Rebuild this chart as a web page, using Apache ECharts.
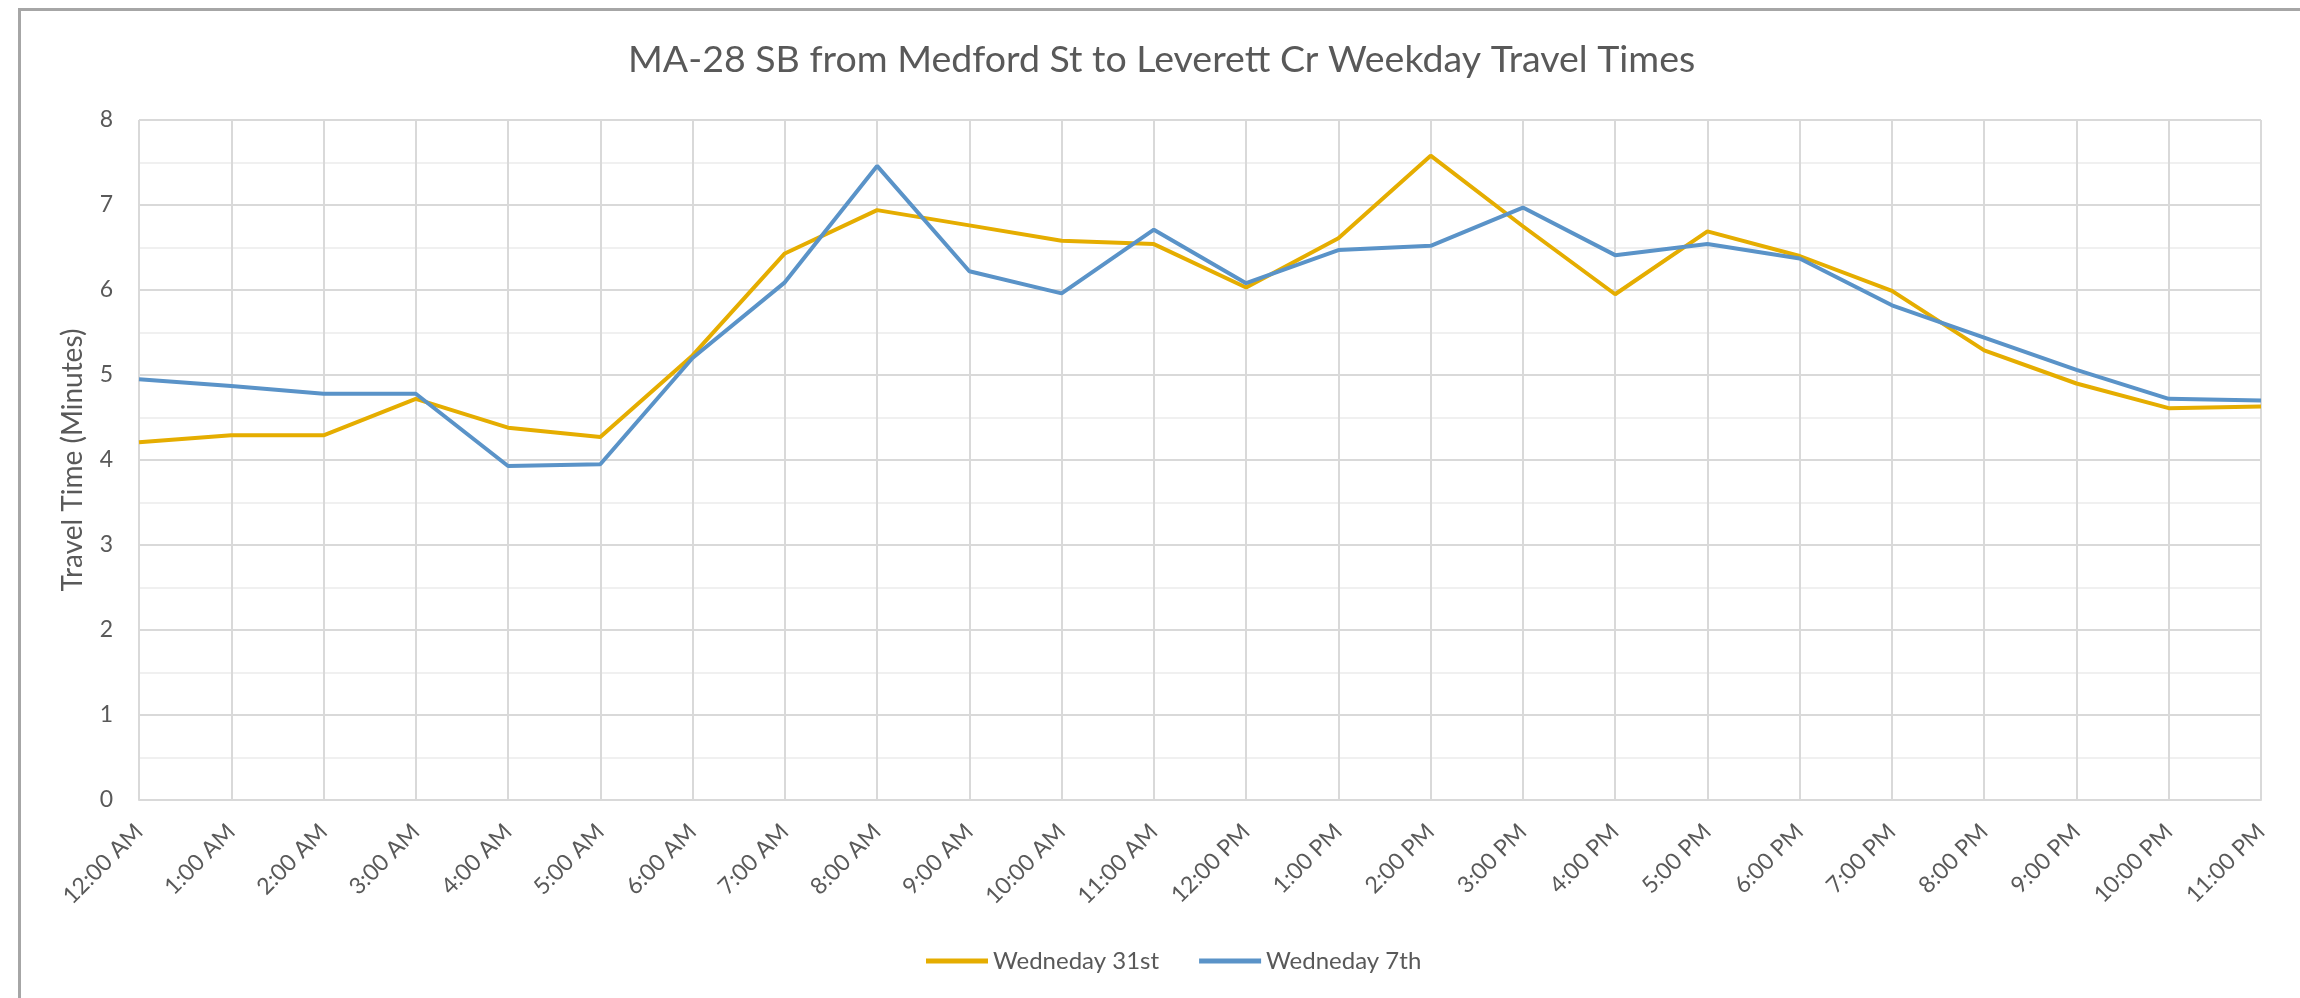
<!DOCTYPE html>
<html>
<head>
<meta charset="utf-8">
<script src="https://cdn.jsdelivr.net/npm/echarts@6/dist/echarts.min.js"></script>
<style>
  html, body { margin: 0; padding: 0; background: #fff; }
  #frame { position: absolute; left: 18px; top: 8px; right: 0; bottom: 0; border-left: 3px solid #a6a6a6; border-top: 3px solid #a6a6a6; }
  #chart { position: absolute; left: 0; top: 0; width: 2300px; height: 998px; }
</style>
</head>
<body>
<div id="frame"></div>
<div id="chart"></div>
<script>
const hours = ['12:00 AM', '1:00 AM', '2:00 AM', '3:00 AM', '4:00 AM', '5:00 AM', '6:00 AM', '7:00 AM',
    '8:00 AM', '9:00 AM', '10:00 AM', '11:00 AM', '12:00 PM', '1:00 PM', '2:00 PM', '3:00 PM',
    '4:00 PM', '5:00 PM', '6:00 PM', '7:00 PM', '8:00 PM', '9:00 PM', '10:00 PM', '11:00 PM'];
const wed31 = [4.21, 4.29, 4.29, 4.72, 4.38, 4.27, 5.23, 6.43, 6.94, 6.76, 6.58, 6.54,
    6.03, 6.61, 7.58, 6.75, 5.95, 6.69, 6.40, 5.99, 5.29, 4.90, 4.61, 4.63];
const wed7 = [4.95, 4.87, 4.78, 4.78, 3.93, 3.95, 5.20, 6.09, 7.46, 6.22, 5.96, 6.71,
    6.08, 6.47, 6.52, 6.97, 6.41, 6.54, 6.37, 5.82, 5.44, 5.06, 4.72, 4.70];

const font = 'Lato, "Open Sans", sans-serif';
const textColor = '#595959';

let chartDom = document.getElementById('chart');
let myChart = echarts.init(chartDom);
let option = {
    animation: false,
    textStyle: { fontFamily: font },
    title: {
        text: 'MA-28 SB from Medford St to Leverett Cr Weekday Travel Times',
        left: 623,
        top: 36,
        textStyle: { fontFamily: font, fontSize: 37.5, fontWeight: 'normal', color: textColor }
    },
    grid: { left: 139, right: 39, top: 120, bottom: 198 },
    legend: {
        bottom: 20,
        left: 921,
        icon: 'rect',
        itemWidth: 62,
        itemHeight: 5,
        itemGap: 40,
        textStyle: { fontFamily: font, fontSize: 24, color: textColor },
        data: ['Wedneday 31st', 'Wedneday 7th']
    },
    xAxis: {
        type: 'category',
        data: hours,
        boundaryGap: false,
        axisLine: { lineStyle: { color: '#d9d9d9', width: 2 } },
        axisTick: { show: false },
        axisLabel: {
            rotate: 45,
            interval: 0,
            margin: 28,
            fontSize: 23,
            color: textColor,
            fontFamily: font
        },
        splitLine: { show: true, lineStyle: { color: '#d9d9d9', width: 2 } }
    },
    yAxis: {
        type: 'value',
        min: 0,
        max: 8,
        interval: 1,
        name: 'Travel Time (Minutes)',
        nameLocation: 'middle',
        nameGap: 52,
        nameTextStyle: { fontFamily: font, fontSize: 28, color: textColor },
        axisLine: { show: false },
        axisTick: { show: false },
        axisLabel: { fontSize: 23, color: textColor, margin: 26, fontFamily: font },
        splitLine: { lineStyle: { color: '#d9d9d9', width: 2 } },
        minorTick: { show: false, splitNumber: 2 },
        minorSplitLine: { show: true, lineStyle: { color: '#f0f0f0', width: 2 } }
    },
    series: [
        {
            name: 'Wedneday 31st',
            type: 'line',
            data: wed31,
            symbol: 'none',
            lineStyle: { color: '#e5ad00', width: 4 },
            itemStyle: { color: '#e5ad00' }
        },
        {
            name: 'Wedneday 7th',
            type: 'line',
            data: wed7,
            symbol: 'none',
            lineStyle: { color: '#5a93c8', width: 4 },
            itemStyle: { color: '#5a93c8' }
        }
    ]
};
option && myChart.setOption(option);
</script>
</body>
</html>
